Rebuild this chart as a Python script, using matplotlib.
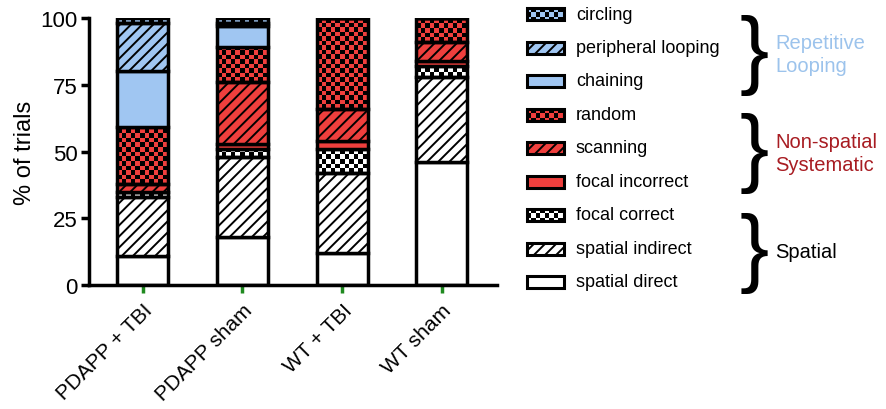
import matplotlib
matplotlib.use("Agg")
import matplotlib.pyplot as plt
import numpy as np
from matplotlib.colors import ListedColormap
from matplotlib.patches import Rectangle

plt.rcParams['font.family'] = ['Liberation Sans', 'DejaVu Sans']
plt.rcParams['hatch.linewidth'] = 1.4

groups = ['PDAPP + TBI', 'PDAPP sham', 'WT + TBI', 'WT sham']

# search strategies, stacked bottom to top
strategies = ['spatial direct', 'spatial indirect', 'focal correct',
              'focal incorrect', 'scanning', 'random', 'chaining',
              'peripheral looping', 'circling']

spatial_direct = [11, 18, 12, 46]
spatial_indirect = [22, 30, 30, 32]
focal_correct = [2, 3, 9, 4]
focal_incorrect = [0, 2, 3, 2]
scanning = [3, 23, 12, 7]
random_search = [21, 13, 34, 9]
chaining = [21, 8, 0, 0]
peripheral_looping = [18, 1, 0, 0]
circling = [2, 2, 0, 0]

series = [spatial_direct, spatial_indirect, focal_correct, focal_incorrect,
          scanning, random_search, chaining, peripheral_looping, circling]

BLUE = '#a0c6f2'
RED = '#ef3f3d'
WHITE = 'white'

# fill colour and fill pattern of each strategy
styles = {
    'spatial direct': (WHITE, None),
    'spatial indirect': (WHITE, 'hatch'),
    'focal correct': (WHITE, 'checker'),
    'focal incorrect': (RED, None),
    'scanning': (RED, 'hatch'),
    'random': (RED, 'checker'),
    'chaining': (BLUE, None),
    'peripheral looping': (BLUE, 'hatch'),
    'circling': (BLUE, 'checker'),
}

groups_text = [('Repetitive\nLooping', '#9cc3ec', 55),
               ('Non-spatial\nSystematic', '#a81c22', 154),
               ('Spatial', 'black', 253)]


def checker(axis, patch, color, dx, dy):
    """Fill a patch with a black checkerboard, clipped to its outline."""
    x0, y0 = patch.get_x(), patch.get_y()
    w, h = patch.get_width(), patch.get_height()
    nx = int(np.ceil(w / dx))
    ny = max(1, int(np.ceil(h / dy)))
    grid = np.indices((ny, nx)).sum(axis=0) % 2
    im = axis.imshow(grid, cmap=ListedColormap([color, 'black']),
                     extent=(x0, x0 + nx * dx, y0, y0 + ny * dy),
                     origin='lower', interpolation='nearest',
                     aspect='auto', zorder=1.5)
    im.set_clip_path(patch)


fig = plt.figure(figsize=(8.87, 4.10), dpi=100)
ax = fig.add_axes([0.100, 0.302, 0.460, 0.652])

x = np.arange(len(groups))
bottom = np.zeros(len(groups))
for name, vals in zip(strategies, series):
    color, pattern = styles[name]
    bars = ax.bar(x, vals, width=0.51, bottom=bottom,
                  color='none' if pattern == 'checker' else color,
                  edgecolor='black', linewidth=2.5,
                  hatch='///' if pattern == 'hatch' else None, zorder=2)
    if pattern == 'checker':
        for b in bars:
            if b.get_height() > 0:
                checker(ax, b, color, 0.046, 1.7)
    bottom += np.array(vals)

ax.set_xlim(-0.54, 3.55)
ax.set_ylim(0, 100)
ax.set_yticks([0, 25, 50, 75, 100])
ax.set_xticks(x)
ax.set_xticklabels(groups, rotation=45, ha='right', rotation_mode='anchor',
                   fontsize=15)
ax.tick_params(axis='y', length=6, width=2.5, labelsize=16, pad=2)
ax.tick_params(axis='x', length=6, width=2.5, color='#1f8a1f', pad=5)
ax.set_ylabel('% of trials', fontsize=17, labelpad=3)
for side in ['top', 'right']:
    ax.spines[side].set_visible(False)
for side in ['left', 'bottom']:
    ax.spines[side].set_linewidth(2.5)

# legend, braces and group names on an overlay in pixel units
lax = fig.add_axes([0, 0, 1, 1])
lax.set_xlim(0, 887)
lax.set_ylim(410, 0)
lax.axis('off')

for i, name in enumerate(strategies[::-1]):
    color, pattern = styles[name]
    yc = 15 + i * 33.5
    sw = Rectangle((527, yc - 6), 37, 12,
                   facecolor='none' if pattern == 'checker' else color,
                   edgecolor='black', linewidth=2.2,
                   hatch='///' if pattern == 'hatch' else None, zorder=2)
    lax.add_patch(sw)
    if pattern == 'checker':
        checker(lax, sw, color, 4.5, 4.5)
    lax.text(576, yc, name, va='center', ha='left', fontsize=13)

for label, color, yc in groups_text:
    lax.text(754, yc, '}', fontsize=63, ha='center', va='center')
    lax.text(775, yc, label, color=color, fontsize=14.5, ha='left',
             va='center', linespacing=1.25)

lax.set_xlim(0, 887)
lax.set_ylim(410, 0)

fig.savefig('out.png', dpi=100)
